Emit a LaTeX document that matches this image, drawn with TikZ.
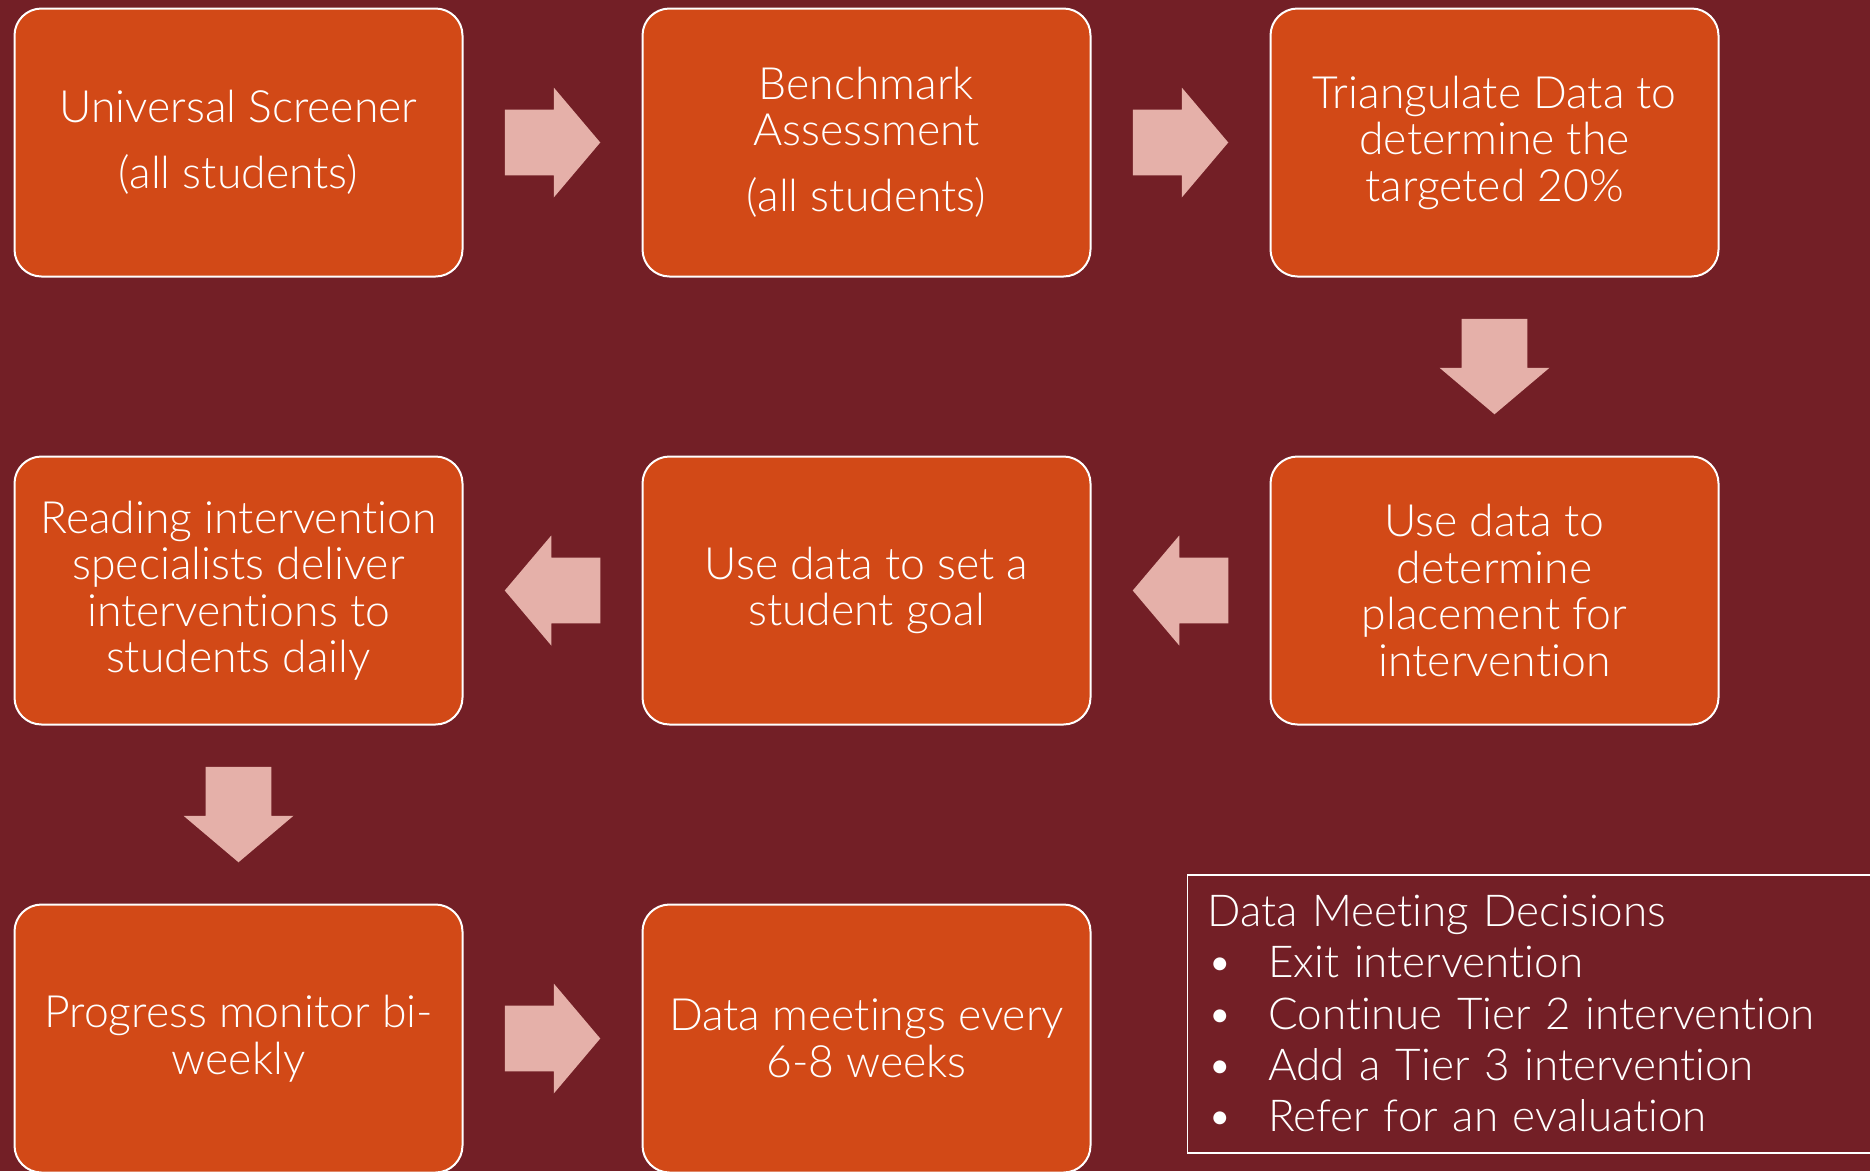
\documentclass[tikz,border=0pt]{standalone}
\usepackage{fontspec}
\setmainfont{Lato Light}[Ligatures=NoCommon]
\usetikzlibrary{calc}
\usetikzlibrary{positioning}

\definecolor{slidebg}{HTML}{731F26}
\definecolor{stepfill}{HTML}{D24917}
\definecolor{arrowfill}{HTML}{E5B0A9}

\tikzset{
  stepbox/.style={draw=white, line width=2pt, fill=stepfill, rounded corners=27pt,
    minimum width=448pt, minimum height=268pt, inner sep=0pt, align=center,
    text=white, font=\fontsize{44.5}{46.5}\selectfont},
  decisionbox/.style={draw=white, line width=1.5pt, anchor=north west, minimum height=278pt,
    text width=660pt, inner xsep=20pt, align=left, text=white,
    font=\fontsize{44}{51.3}\selectfont},
  pics/blockarrow/.style={code={
    \fill[arrowfill] (-47.75pt,-32.8pt) -- (1.25pt,-32.8pt) -- (1.25pt,-55pt) -- (47.75pt,0pt)
      -- (1.25pt,55pt) -- (1.25pt,32.8pt) -- (-47.75pt,32.8pt) -- cycle;}}
}
\newcommand{\itembullet}{\makebox[61pt][l]{\textbullet}}

\begin{document}
\begin{tikzpicture}[x=1pt, y=-1pt, node distance=178pt]
  \useasboundingbox (0,0) rectangle (1870,1171);
  \fill[slidebg] (0,0) rectangle (1870,1171);

  % top row, left to right
  \node[stepbox] (screener) at (238.5,142.5) {Universal Screener\\[19.5pt](all students)};
  \node[stepbox, right=of screener] (benchmark) {Benchmark\\Assessment\\[19.5pt](all students)};
  \node[stepbox, right=of benchmark] (triangulate) {Triangulate Data to\\determine the\\targeted 20\%};

  % middle row, right to left
  \node[stepbox, below=of triangulate] (placement) {Use data to\\determine\\placement for\\intervention};
  \node[stepbox, left=of placement] (goal) {Use data to set a\\student goal};
  \node[stepbox, left=of goal] (deliver) {Reading intervention\\specialists deliver\\interventions to\\students daily};

  % bottom row
  \node[stepbox, below=of deliver] (monitor) {Progress monitor bi-\\weekly};
  \node[stepbox, right=of monitor] (meetings) {Data meetings every\\6-8 weeks};

  \node[decisionbox] (decisions) at (1186.6,874) {Data Meeting Decisions\\
    \itembullet Exit intervention\\
    \itembullet Continue Tier 2 intervention\\
    \itembullet Add a Tier 3 intervention\\
    \itembullet Refer for an evaluation};

  \pic at ($(screener.east)!.5!(benchmark.west)$) {blockarrow};
  \pic at ($(benchmark.east)!.5!(triangulate.west)$) {blockarrow};
  \pic[rotate=-90] at ($(triangulate.south)!.5!(placement.north)$) {blockarrow};
  \pic[rotate=180] at ($(placement.west)!.5!(goal.east)$) {blockarrow};
  \pic[rotate=180] at ($(goal.west)!.5!(deliver.east)$) {blockarrow};
  \pic[rotate=-90] at ($(deliver.south)!.5!(monitor.north)$) {blockarrow};
  \pic at ($(monitor.east)!.5!(meetings.west)$) {blockarrow};
\end{tikzpicture}
\end{document}
